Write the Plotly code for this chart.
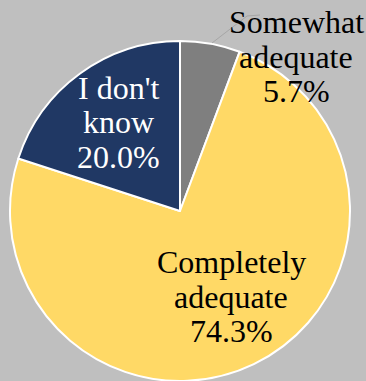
import plotly.graph_objects as go

W, H = 366, 381

labels = ["Somewhat adequate", "Completely adequate", "I don't know"]
values = [5.7, 74.3, 20.0]
colors = ["#7f7f7f", "#ffd966", "#203864"]
label_lines = [["Somewhat", "adequate"], ["Completely", "adequate"], ["I don't", "know"]]
text_colors = ["#000000", "#000000", "#ffffff"]
# label block anchor (px): centre x, baseline of first line
label_pos = [(296, 33), (231, 273), (118, 99)]
line_pitch = 34.5
font_size = 32
FONT = "Liberation Serif"

fig = go.Figure(go.Pie(
    labels=labels,
    values=values,
    sort=False,
    direction="clockwise",
    rotation=0,
    marker=dict(colors=colors, line=dict(color="#ffffff", width=2)),
    textinfo="none",
    hoverinfo="label+percent",
    showlegend=False,
    domain=dict(x=[10 / W, 350 / W], y=[0, 340 / H]),
))

annotations = []
for lines, v, tc, (cx, by) in zip(label_lines, values, text_colors, label_pos):
    all_lines = lines + [f"{v:.1f}%"]
    for i, t in enumerate(all_lines):
        base = by + i * line_pitch
        annotations.append(dict(
            x=cx / W, y=1 - (base - 11) / H, xref="paper", yref="paper",
            text=t, showarrow=False, xanchor="center", yanchor="middle",
            font=dict(family=FONT, size=font_size, color=tc),
        ))

fig.update_layout(
    width=W, height=H,
    margin=dict(l=0, r=0, t=0, b=0),
    paper_bgcolor="#bfbfbf",
    plot_bgcolor="#bfbfbf",
    font=dict(family=FONT),
    annotations=annotations,
    shapes=[dict(
        type="path", xref="paper", yref="paper",
        path=f"M {212/W},{1-43/H} L {247/W},{1-16/H} L {260/W},{1-15/H}",
        line=dict(color="#a6a6a6", width=1),
    )],
)

fig.write_html(
    "out.html",
    config={"displayModeBar": False},
    post_script="document.body.style.margin='0';document.body.style.overflow='hidden';",
)
